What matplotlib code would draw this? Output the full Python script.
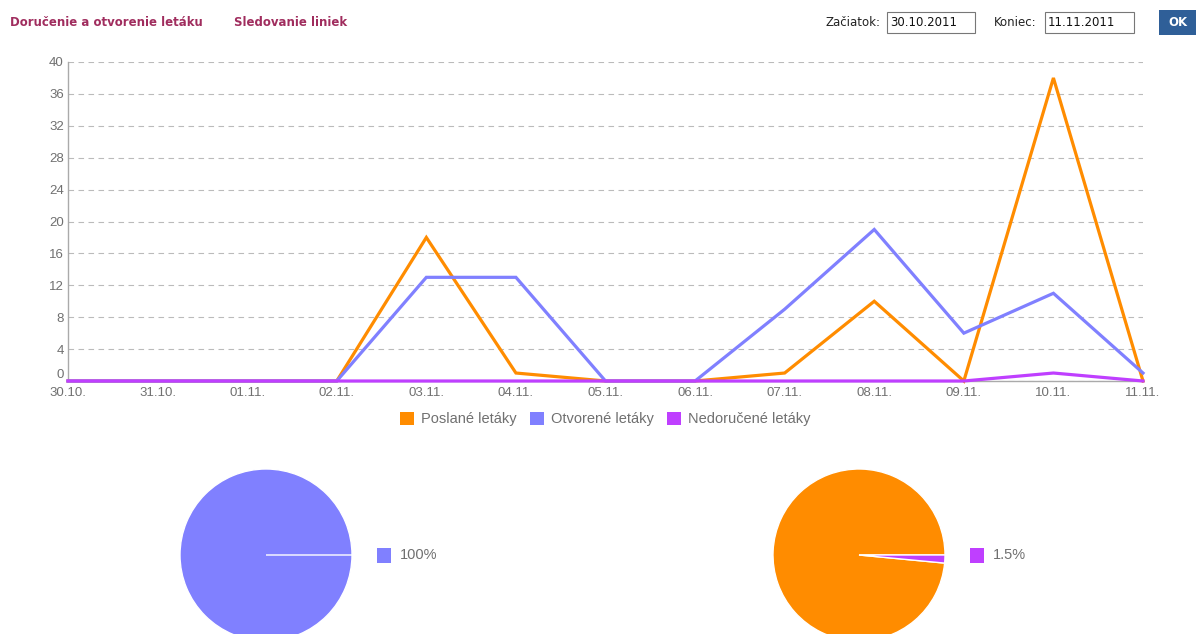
import numpy as np
import matplotlib
matplotlib.use("Agg")
import matplotlib.pyplot as plt
from matplotlib.patches import Rectangle, Patch

# data
days = ["30.10.", "31.10.", "01.11.", "02.11.", "03.11.", "04.11.", "05.11.",
        "06.11.", "07.11.", "08.11.", "09.11.", "10.11.", "11.11."]
poslane = [0, 0, 0, 0, 18, 1, 0, 0, 1, 10, 0, 38, 0]
otvorene = [0, 0, 0, 0, 13, 13, 0, 0, 9, 19, 6, 11, 1]
nedorucene = [0, 0, 0, 0, 0, 0, 0, 0, 0, 0, 0, 1, 0]
series_names = ["Poslané letáky", "Otvorené letáky", "Nedoručené letáky"]
y_ticks = [0, 4, 8, 12, 16, 20, 24, 28, 32, 36, 40]

# pie shares in percent
pie_left = [100, 0]
pie_right = [98.5, 1.5]

ORANGE = "#ff8c00"
BLUE = "#8080ff"
PURPLE = "#bf3fff"
GREY = "#707070"
HEAD = "#a02d5e"

W, H = 1201, 634
fig = plt.figure(figsize=(W / 100, H / 100), dpi=100)
fig.patch.set_facecolor("white")

def px_axes(x0, y0, x1, y1):
    # pixel box (top-left origin) -> figure axes
    return fig.add_axes([x0 / W, 1 - y1 / H, (x1 - x0) / W, (y1 - y0) / H])

# header
fig.text(10 / W, 1 - 22 / H, "Doručenie a otvorenie letáku", color=HEAD,
         fontsize=8.5, fontweight="bold", family="DejaVu Sans", va="center")
fig.text(234 / W, 1 - 22 / H, "Sledovanie liniek", color=HEAD,
         fontsize=8.5, fontweight="bold", family="DejaVu Sans", va="center")

fig.text(826 / W, 1 - 22 / H, "Začiatok:", color="#222222", fontsize=8.5,
         family="DejaVu Sans", va="center")
fig.text(994 / W, 1 - 22 / H, "Koniec:", color="#222222", fontsize=8.5,
         family="DejaVu Sans", va="center")
for (bx0, bx1, txt) in [(887, 975, "30.10.2011"), (1045, 1134, "11.11.2011")]:
    fig.patches.append(Rectangle((bx0 / W, 1 - 33 / H), (bx1 - bx0) / W, 21 / H,
                                 transform=fig.transFigure, facecolor="white",
                                 edgecolor="#777777", lw=0.8))
    fig.text((bx0 + 3) / W, 1 - 22 / H, txt, color="#111111", fontsize=8.5,
             family="DejaVu Sans", va="center")
fig.patches.append(Rectangle((1159 / W, 1 - 35 / H), 37 / W, 25 / H,
                             transform=fig.transFigure, facecolor="#2f5f98",
                             edgecolor="none"))
fig.text(1177.5 / W, 1 - 22.5 / H, "OK", color="white", fontsize=8.5,
         fontweight="bold", family="DejaVu Sans", va="center", ha="center")

# line chart
ax = px_axes(68, 62, 1143, 381)
x = np.arange(len(days))
for vals, col, name in [(poslane, ORANGE, series_names[0]),
                        (otvorene, BLUE, series_names[1]),
                        (nedorucene, PURPLE, series_names[2])]:
    ax.plot(x, vals, color=col, lw=2.3, label=name, solid_joinstyle="miter",
            clip_on=False, zorder=3)
ax.set_xlim(0, len(days) - 1)
ax.set_ylim(0, 40)
ax.set_yticks(y_ticks)
ax.set_xticks(x)
ax.set_xticklabels(days)
ax.yaxis.grid(True, ls=(0, (5, 4)), color="#bbbbbb", lw=0.8)
for s in ["top", "right"]:
    ax.spines[s].set_visible(False)
for s in ["left", "bottom"]:
    ax.spines[s].set_color("#aaaaaa")
    ax.spines[s].set_linewidth(1.0)
ax.tick_params(axis="both", length=0, colors=GREY, labelsize=9.5)
ax.tick_params(axis="y", pad=3)
ax.tick_params(axis="x", pad=4)
for lab in ax.get_xticklabels() + ax.get_yticklabels():
    lab.set_family("Liberation Sans")
ax.get_yticklabels()[0].set_va("bottom")

handles = [Patch(facecolor=c, edgecolor="none") for c in [ORANGE, BLUE, PURPLE]]
fig.legend(handles, series_names, loc="center", bbox_to_anchor=(605 / W, 1 - 419 / H),
           ncol=3, frameon=False, handlelength=1.0, handleheight=1.0,
           handletextpad=0.45, columnspacing=0.9, labelcolor=GREY,
           prop={"family": "Liberation Sans", "size": 10.5})

# pies
def draw_pie(cx, cy, r, vals, cols, lab_col, label):
    pax = px_axes(cx - r, cy - r, cx + r, cy + r)
    pax.pie(vals, colors=cols, startangle=0, counterclock=True,
            wedgeprops={"edgecolor": "white", "linewidth": 1.0})
    pax.set_xlim(-1, 1)
    pax.set_ylim(-1, 1)
    pax.set_aspect("equal")
    pax.axis("off")
    sx = cx + r + 25
    fig.patches.append(Rectangle((sx / W, 1 - (cy + 8) / H), 14 / W, 15 / H,
                                 transform=fig.transFigure, facecolor=lab_col,
                                 edgecolor="none"))
    fig.text((sx + 23) / W, 1 - cy / H, label, color=GREY, fontsize=10.5,
             family="Liberation Sans", va="center")

draw_pie(266, 555, 86, pie_left, [BLUE, BLUE], BLUE, f"{pie_left[0]:g}%")
draw_pie(859, 555, 86, pie_right, [ORANGE, PURPLE], PURPLE, f"{pie_right[1]:g}%")

fig.savefig("out.png", dpi=100)
